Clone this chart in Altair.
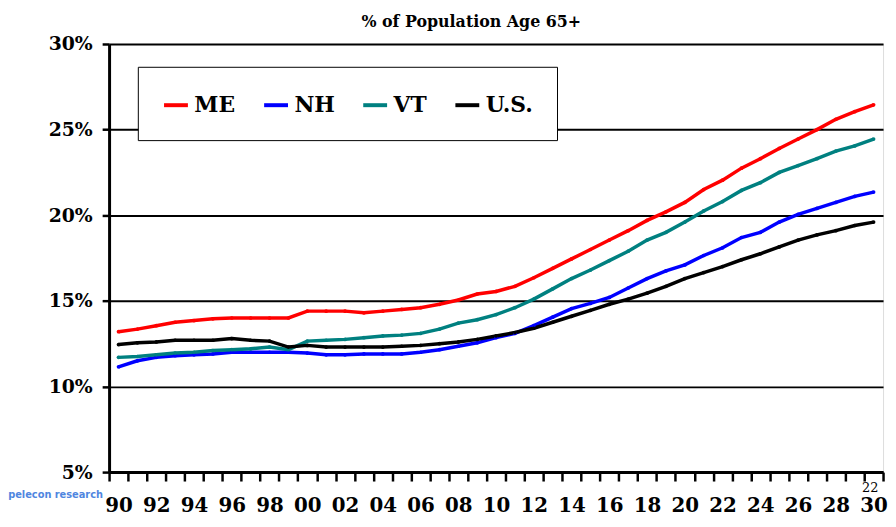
import altair as alt
import pandas as pd

years = list(range(1990, 2031))
series_names = ["ME", "NH", "VT", "U.S."]
series_colors = ["#FF0000", "#0000FF", "#008080", "#000000"]

ME = [13.2, 13.35, 13.55, 13.75, 13.85, 13.95, 14.0, 14.0, 14.0, 14.0,
      14.4, 14.4, 14.4, 14.3, 14.4, 14.5, 14.6, 14.8, 15.05, 15.4,
      15.55, 15.85, 16.35, 16.9, 17.45, 18.0, 18.55, 19.1, 19.7, 20.2,
      20.75, 21.5, 22.05, 22.75, 23.3, 23.9, 24.45, 25.0, 25.6, 26.05, 26.45]
NH = [11.15, 11.5, 11.7, 11.8, 11.85, 11.9, 12.0, 12.0, 12.0, 12.0,
      11.95, 11.85, 11.85, 11.9, 11.9, 11.9, 12.0, 12.15, 12.35, 12.55,
      12.85, 13.1, 13.55, 14.05, 14.55, 14.85, 15.2, 15.75, 16.3, 16.75,
      17.1, 17.65, 18.1, 18.7, 19.0, 19.6, 20.05, 20.4, 20.75, 21.1, 21.35]
VT = [11.7, 11.75, 11.85, 11.95, 12.0, 12.1, 12.15, 12.2, 12.3, 12.15,
      12.65, 12.7, 12.75, 12.85, 12.95, 13.0, 13.1, 13.35, 13.7, 13.9,
      14.2, 14.6, 15.1, 15.7, 16.3, 16.8, 17.35, 17.9, 18.55, 19.0,
      19.6, 20.25, 20.8, 21.45, 21.9, 22.5, 22.9, 23.3, 23.75, 24.05, 24.45]
US = [12.45, 12.55, 12.6, 12.7, 12.7, 12.7, 12.8, 12.7, 12.65, 12.3,
      12.4, 12.3, 12.3, 12.3, 12.3, 12.35, 12.4, 12.5, 12.6, 12.75,
      12.95, 13.15, 13.4, 13.75, 14.1, 14.45, 14.8, 15.1, 15.45, 15.85,
      16.3, 16.65, 17.0, 17.4, 17.75, 18.15, 18.55, 18.85, 19.1, 19.4, 19.6]

y_ticks = [5, 10, 15, 20, 25, 30]
logo_text = ["pelecon research"]
page_number = ["22"]

rows = []
for name, vals in zip(series_names, [ME, NH, VT, US]):
    for yr, v in zip(years, vals):
        rows.append({"year": yr, "value": v, "series": name})
df = pd.DataFrame(rows)

FONT = "DejaVu Serif"

lines = alt.Chart(df).mark_line(
    strokeWidth=3.5,
    point=alt.OverlayMarkDef(filled=True, size=14),
).encode(
    x=alt.X("year:O", title=None,
            scale=alt.Scale(type="band", paddingInner=0, paddingOuter=0),
            axis=alt.Axis(tickBand="extent", labelAngle=0, labelOverlap=False,
                          labelExpr="datum.value % 2 == 0 ? format(datum.value % 100, '02d') : ''",
                          tickSize=9, tickWidth=2.5, tickColor="black",
                          domainColor="black", domainWidth=3,
                          labelFont=FONT, labelFontSize=20, labelFontWeight="bold",
                          labelColor="black", labelPadding=15, grid=False)),
    y=alt.Y("value:Q", title=None,
            scale=alt.Scale(domain=[5, 30], nice=False, zero=False),
            axis=alt.Axis(values=y_ticks, labelExpr="datum.value + '%'",
                          tickSize=7, tickWidth=2.5, tickColor="black",
                          domainColor="black", domainWidth=3,
                          grid=True, gridColor="black", gridWidth=2,
                          labelFont=FONT, labelFontSize=19, labelFontWeight="bold",
                          labelColor="black", labelPadding=10)),
    color=alt.Color("series:N",
                    scale=alt.Scale(domain=series_names, range=series_colors),
                    sort=series_names,
                    legend=alt.Legend(orient="none", legendX=29, legendY=23,
                                      direction="horizontal", title=None,
                                      symbolType="stroke", symbolSize=580,
                                      symbolStrokeWidth=4,
                                      labelFont=FONT, labelFontSize=22,
                                      labelFontWeight="bold", labelColor="black",
                                      columnPadding=20, labelOffset=4,
                                      padding=24, strokeColor="black",
                                      fillColor="white")),
)

logo = alt.Chart(pd.DataFrame({"t": logo_text})).mark_text(
    font="DejaVu Sans Condensed", fontSize=11, fontWeight="bold", color="#4f86e0",
    align="center", baseline="middle",
).encode(x=alt.value(-54), y=alt.value(455), text="t:N")

page = alt.Chart(pd.DataFrame({"t": page_number})).mark_text(
    font=FONT, fontSize=13, color="black", align="center", baseline="middle",
).encode(x=alt.value(768), y=alt.value(448), text="t:N")

chart = alt.layer(lines, logo, page).properties(
    width=781,
    height=432,
    title=alt.TitleParams("% of Population Age 65+", font=FONT, fontSize=16,
                          fontWeight="bold", color="black", anchor="middle",
                          dx=-25, offset=5),
    autosize=alt.AutoSizeParams(type="none"),
    padding={"left": 102, "top": 34, "right": 5, "bottom": 45},
).configure_view(
    stroke="black", strokeWidth=3
).configure(background="white")

chart.save("out.html", embed_options={"renderer": "svg", "actions": False})
